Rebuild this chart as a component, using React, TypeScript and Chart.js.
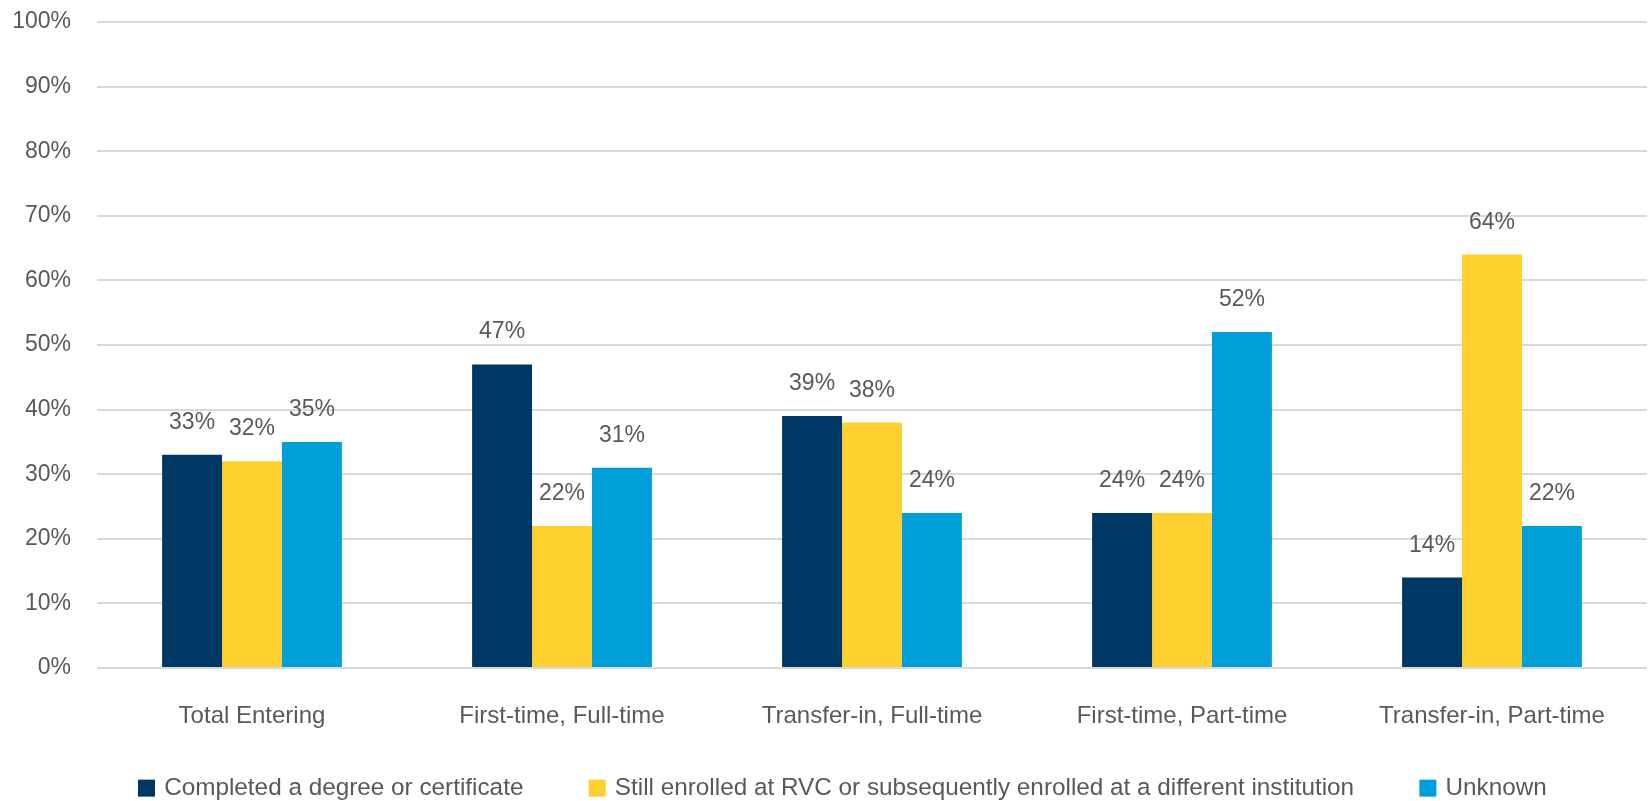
import React, { useEffect, useRef } from "react";
import { Chart, registerables } from "chart.js";

Chart.register(...registerables);

const categories = [
  "Total Entering",
  "First-time, Full-time",
  "Transfer-in, Full-time",
  "First-time, Part-time",
  "Transfer-in, Part-time",
];
const seriesNames = [
  "Completed a degree or certificate",
  "Still enrolled at RVC or subsequently enrolled at a different institution",
  "Unknown",
];
const completed = [33, 47, 39, 24, 14];
const stillEnrolled = [32, 22, 38, 24, 64];
const unknown = [35, 31, 24, 52, 22];
const seriesColors = ["#003865", "#FDD02E", "#009FDA"];

const FONT = "'Liberation Sans', Arial, sans-serif";
const TEXT = "#595959";

const dataLabels = {
  id: "dataLabels",
  afterDatasetsDraw(chart: any) {
    const ctx = chart.ctx;
    ctx.save();
    ctx.font = `23px ${FONT}`;
    ctx.fillStyle = TEXT;
    ctx.textAlign = "center";
    ctx.textBaseline = "alphabetic";
    chart.data.datasets.forEach((ds: any, i: number) => {
      const meta = chart.getDatasetMeta(i);
      meta.data.forEach((el: any, j: number) => {
        ctx.fillText(`${ds.data[j]}%`, el.x, el.y - 26);
      });
    });
    ctx.restore();
  },
};

export default function App() {
  const ref = useRef<HTMLCanvasElement | null>(null);

  useEffect(() => {
    if (!ref.current) return;
    const seriesData = [completed, stillEnrolled, unknown];
    const chart = new Chart(ref.current, {
      type: "bar",
      data: {
        labels: categories,
        datasets: seriesNames.map((name, i) => ({
          label: name,
          data: seriesData[i],
          backgroundColor: seriesColors[i],
          borderWidth: 0,
          pointStyle: "rect",
          categoryPercentage: 0.58,
          barPercentage: 1,
        })),
      },
      options: {
        animation: false,
        responsive: true,
        maintainAspectRatio: false,
        layout: { padding: { left: 0, right: 2, top: 22, bottom: 0 } },
        plugins: {
          tooltip: { enabled: false },
          legend: {
            position: "bottom",
            align: "start",
            fullSize: false,
            maxHeight: 69,
            labels: {
              padding: 44,
              usePointStyle: true,
              pointStyle: "rect",
              boxWidth: 11,
              boxHeight: 17,
              color: TEXT,
              font: { family: FONT, size: 24.3 },
              generateLabels: (chart: any) => {
                const items = Chart.defaults.plugins.legend.labels.generateLabels(chart);
                return items.map((it: any, i: number) => ({
                  ...it,
                  lineWidth: 0,
                  text: i < items.length - 1 ? it.text + "\u2003" : it.text,
                }));
              },
            },
          },
        },
        scales: {
          x: {
            grid: { display: false, drawTicks: false },
            border: { display: false },
            ticks: {
              color: TEXT,
              font: { family: FONT, size: 24 },
              padding: 34,
              maxRotation: 0,
              autoSkip: false,
            },
            afterFit: (scale: any) => {
              scale.height = 64;
            },
          },
          y: {
            min: 0,
            max: 100,
            grid: {
              color: "#D9D9D9",
              lineWidth: 2,
              drawTicks: true,
              tickLength: 26,
              tickColor: "rgba(0,0,0,0)",
            },
            border: { display: false },
            ticks: {
              stepSize: 10,
              color: TEXT,
              font: { family: FONT, size: 23 },
              padding: 0,
              callback: (v: any) => `${v}%`,
            },
            afterFit: (scale: any) => {
              scale.width = 97;
            },
          },
        },
      },
      plugins: [dataLabels],
    });
    return () => chart.destroy();
  }, []);

  return (
    <div style={{ position: "fixed", left: 0, top: 0, width: 1649, height: 801, background: "#fff" }}>
      <canvas ref={ref} />
    </div>
  );
}
